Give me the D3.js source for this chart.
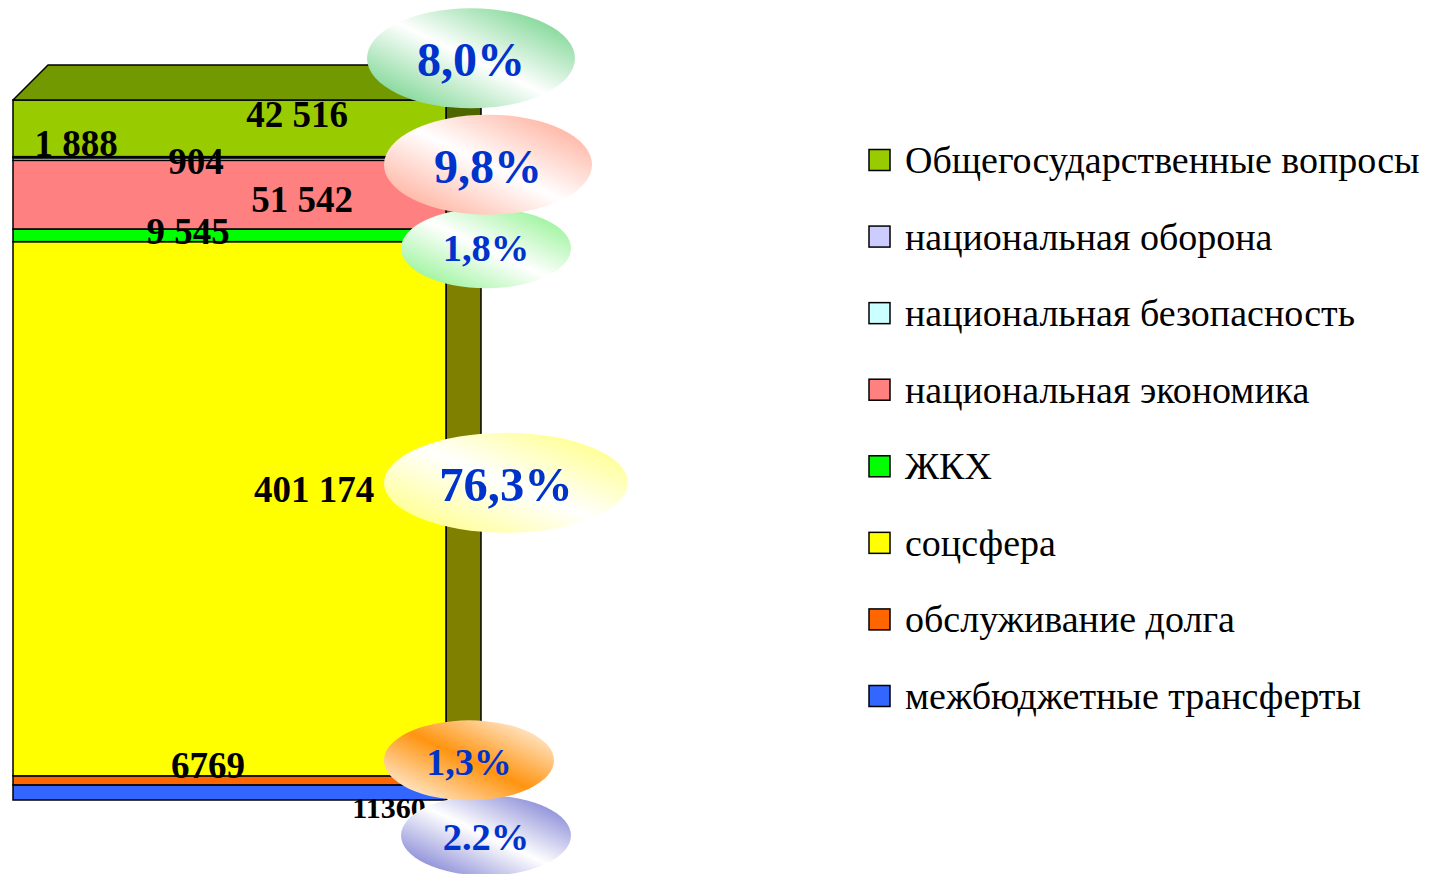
<!DOCTYPE html>
<html><head><meta charset="utf-8">
<script src="https://cdn.jsdelivr.net/npm/d3@7"></script>
<style>html,body{margin:0;padding:0;background:#fff;}svg{display:block;}</style>
</head><body>
<svg id="c" width="1430" height="874"></svg>
<script>
// ---- data (legend order, top of stack first) ----
const categories = ["Общегосударственные вопросы","национальная оборона","национальная безопасность","национальная экономика","ЖКХ","соцсфера","обслуживание долга","межбюджетные трансферты"];
const values = [42516, 904, 1888, 51542, 9545, 401174, 6769, 11360];
const valueLabels = ["42 516","904","1 888","51 542","9 545","401 174","6769","11360"];
const colors = ["#99cc00","#ccccff","#ccffff","#ff8080","#00ff00","#ffff00","#ff6600","#3366ff"];
const percentLabels = ["8,0%", null, null, "9,8%", "1,8%", "76,3%", "1,3%", "2.2%"];
const barCategory = ["2012"];

// ---- layout ----
const svg = d3.select("#c");
const plotTop = 100, plotBottom = 800, depthX = 35, depthY = 35;
const total = d3.sum(values);
const y = d3.scaleLinear().domain([0, total]).range([plotBottom, plotTop]);
const x = d3.scaleBand().domain(barCategory).range([13, 446]).padding(0);

// stack bottom -> top (reverse of legend)
const order = d3.range(categories.length).reverse();
let cum = 0;
const segs = order.map(i => { const s = {i, y0: cum, y1: cum + values[i]}; cum += values[i]; return s; });

const g = svg.append("g");
const x0 = x(barCategory[0]), x1 = x0 + x.bandwidth();
const shade = (c, k) => { const r = d3.rgb(c); return d3.rgb(r.r*k, r.g*k, r.b*k).formatHex(); };

// side faces
g.selectAll("path.side").data(segs).join("path")
  .attr("d", s => `M${x1},${y(s.y0)}L${x1+depthX},${y(s.y0)-depthY}L${x1+depthX},${y(s.y1)-depthY}L${x1},${y(s.y1)}Z`)
  .attr("fill", s => shade(colors[s.i], 0.5)).attr("stroke", "#000").attr("stroke-width", 1.5).attr("stroke-linejoin","round");
// front faces
g.selectAll("rect.front").data(segs).join("rect")
  .attr("x", x0).attr("width", x1 - x0)
  .attr("y", s => y(s.y1)).attr("height", s => y(s.y0) - y(s.y1))
  .attr("fill", s => colors[s.i]).attr("stroke", "#000").attr("stroke-width", 1.5);
// top face
const topSeg = segs[segs.length - 1];
g.append("path")
  .attr("d", `M${x0},${y(total)}L${x0+depthX},${y(total)-depthY}L${x1+depthX},${y(total)-depthY}L${x1},${y(total)}Z`)
  .attr("fill", shade(colors[topSeg.i], 0.75)).attr("stroke", "#000").attr("stroke-width", 1.5).attr("stroke-linejoin","round");

// value labels: [x centre, baseline offset from segment middle, font size]
const valuePos = [[297,-1,37],[196,0,37],[76,0,37],[302,17,37],[188,9,37],[314,-7,37],[208,-2,37],[389,26,30]];
const valueBase = [128,174,156,212,244,502,778,818];
g.selectAll("text.val").data(segs).join("text")
  .attr("x", s => valuePos[s.i][0])
  .attr("y", s => s.i === 1 || s.i === 2 ? valueBase[s.i] : y((s.y0 + s.y1) / 2) + valuePos[s.i][1])
  .attr("text-anchor", "middle")
  .attr("font-family", "'Liberation Serif','Times New Roman',serif")
  .attr("font-weight", "bold")
  .attr("font-size", s => valuePos[s.i][2] + "px")
  .attr("fill", "#000")
  .text(s => valueLabels[s.i]);

// percent callouts: [cx, cy offset from segment middle, rx, ry, font size, baseline offset, color, inverted]
const calloutStyle = {
  0: [471, -70, 104, 50, 48, 18, "#5ccc78", false],
  3: [488, -30, 104, 50, 48, 18, "#ff9f88", false],
  4: [486, 13, 85, 40, 38.5, 13, "#80f080", false],
  5: [506, -26, 122, 50, 48.5, 18, "#ffff70", false],
  6: [469, -20, 85, 40, 38, 15, "#ff9410", true],
  7: [486, 43, 85, 40, 38.5, 15, "#6a6ccc", false]
};
const defs = svg.append("defs");
segs.filter(s => percentLabels[s.i]).forEach(s => {
  const st = calloutStyle[s.i];
  const id = "gr" + s.i;
  const lg = defs.append("linearGradient").attr("id", id).attr("x1", "0").attr("y1", "1").attr("x2", "1").attr("y2", "0");
  const c = st[6];
  const stops = st[7] ? [["0%","#ffffff"],["50%",c],["100%","#ffffff"]] : [["0%",c],["50%","#ffffff"],["100%",c]];
  stops.forEach(p => lg.append("stop").attr("offset", p[0]).attr("stop-color", p[1]));
  const cy = y((s.y0 + s.y1) / 2) + st[1];
  svg.append("ellipse").attr("cx", st[0]).attr("cy", cy).attr("rx", st[2]).attr("ry", st[3]).attr("fill", `url(#${id})`);
  svg.append("text").attr("x", st[0]).attr("y", cy + st[5]).attr("text-anchor", "middle")
    .attr("font-family", "'Liberation Serif','Times New Roman',serif").attr("font-weight", "bold")
    .attr("font-size", st[4] + "px").attr("fill", "#0033cc").text(percentLabels[s.i]);
});

// legend
const leg = svg.append("g");
const ly = d3.scalePoint().domain(categories).range([160, 696]);
const items = leg.selectAll("g").data(categories).join("g").attr("transform", d => `translate(869,${ly(d)})`);
items.append("rect").attr("x", 0).attr("y", -10.5).attr("width", 21).attr("height", 21)
  .attr("fill", (d, i) => colors[i]).attr("stroke", "#000").attr("stroke-width", 1.5);
items.append("text").attr("x", 36).attr("y", 13)
  .attr("font-family", "'Liberation Serif','Times New Roman',serif").attr("font-size", "38px").attr("fill", "#000")
  .text(d => d);
</script>
</body></html>
